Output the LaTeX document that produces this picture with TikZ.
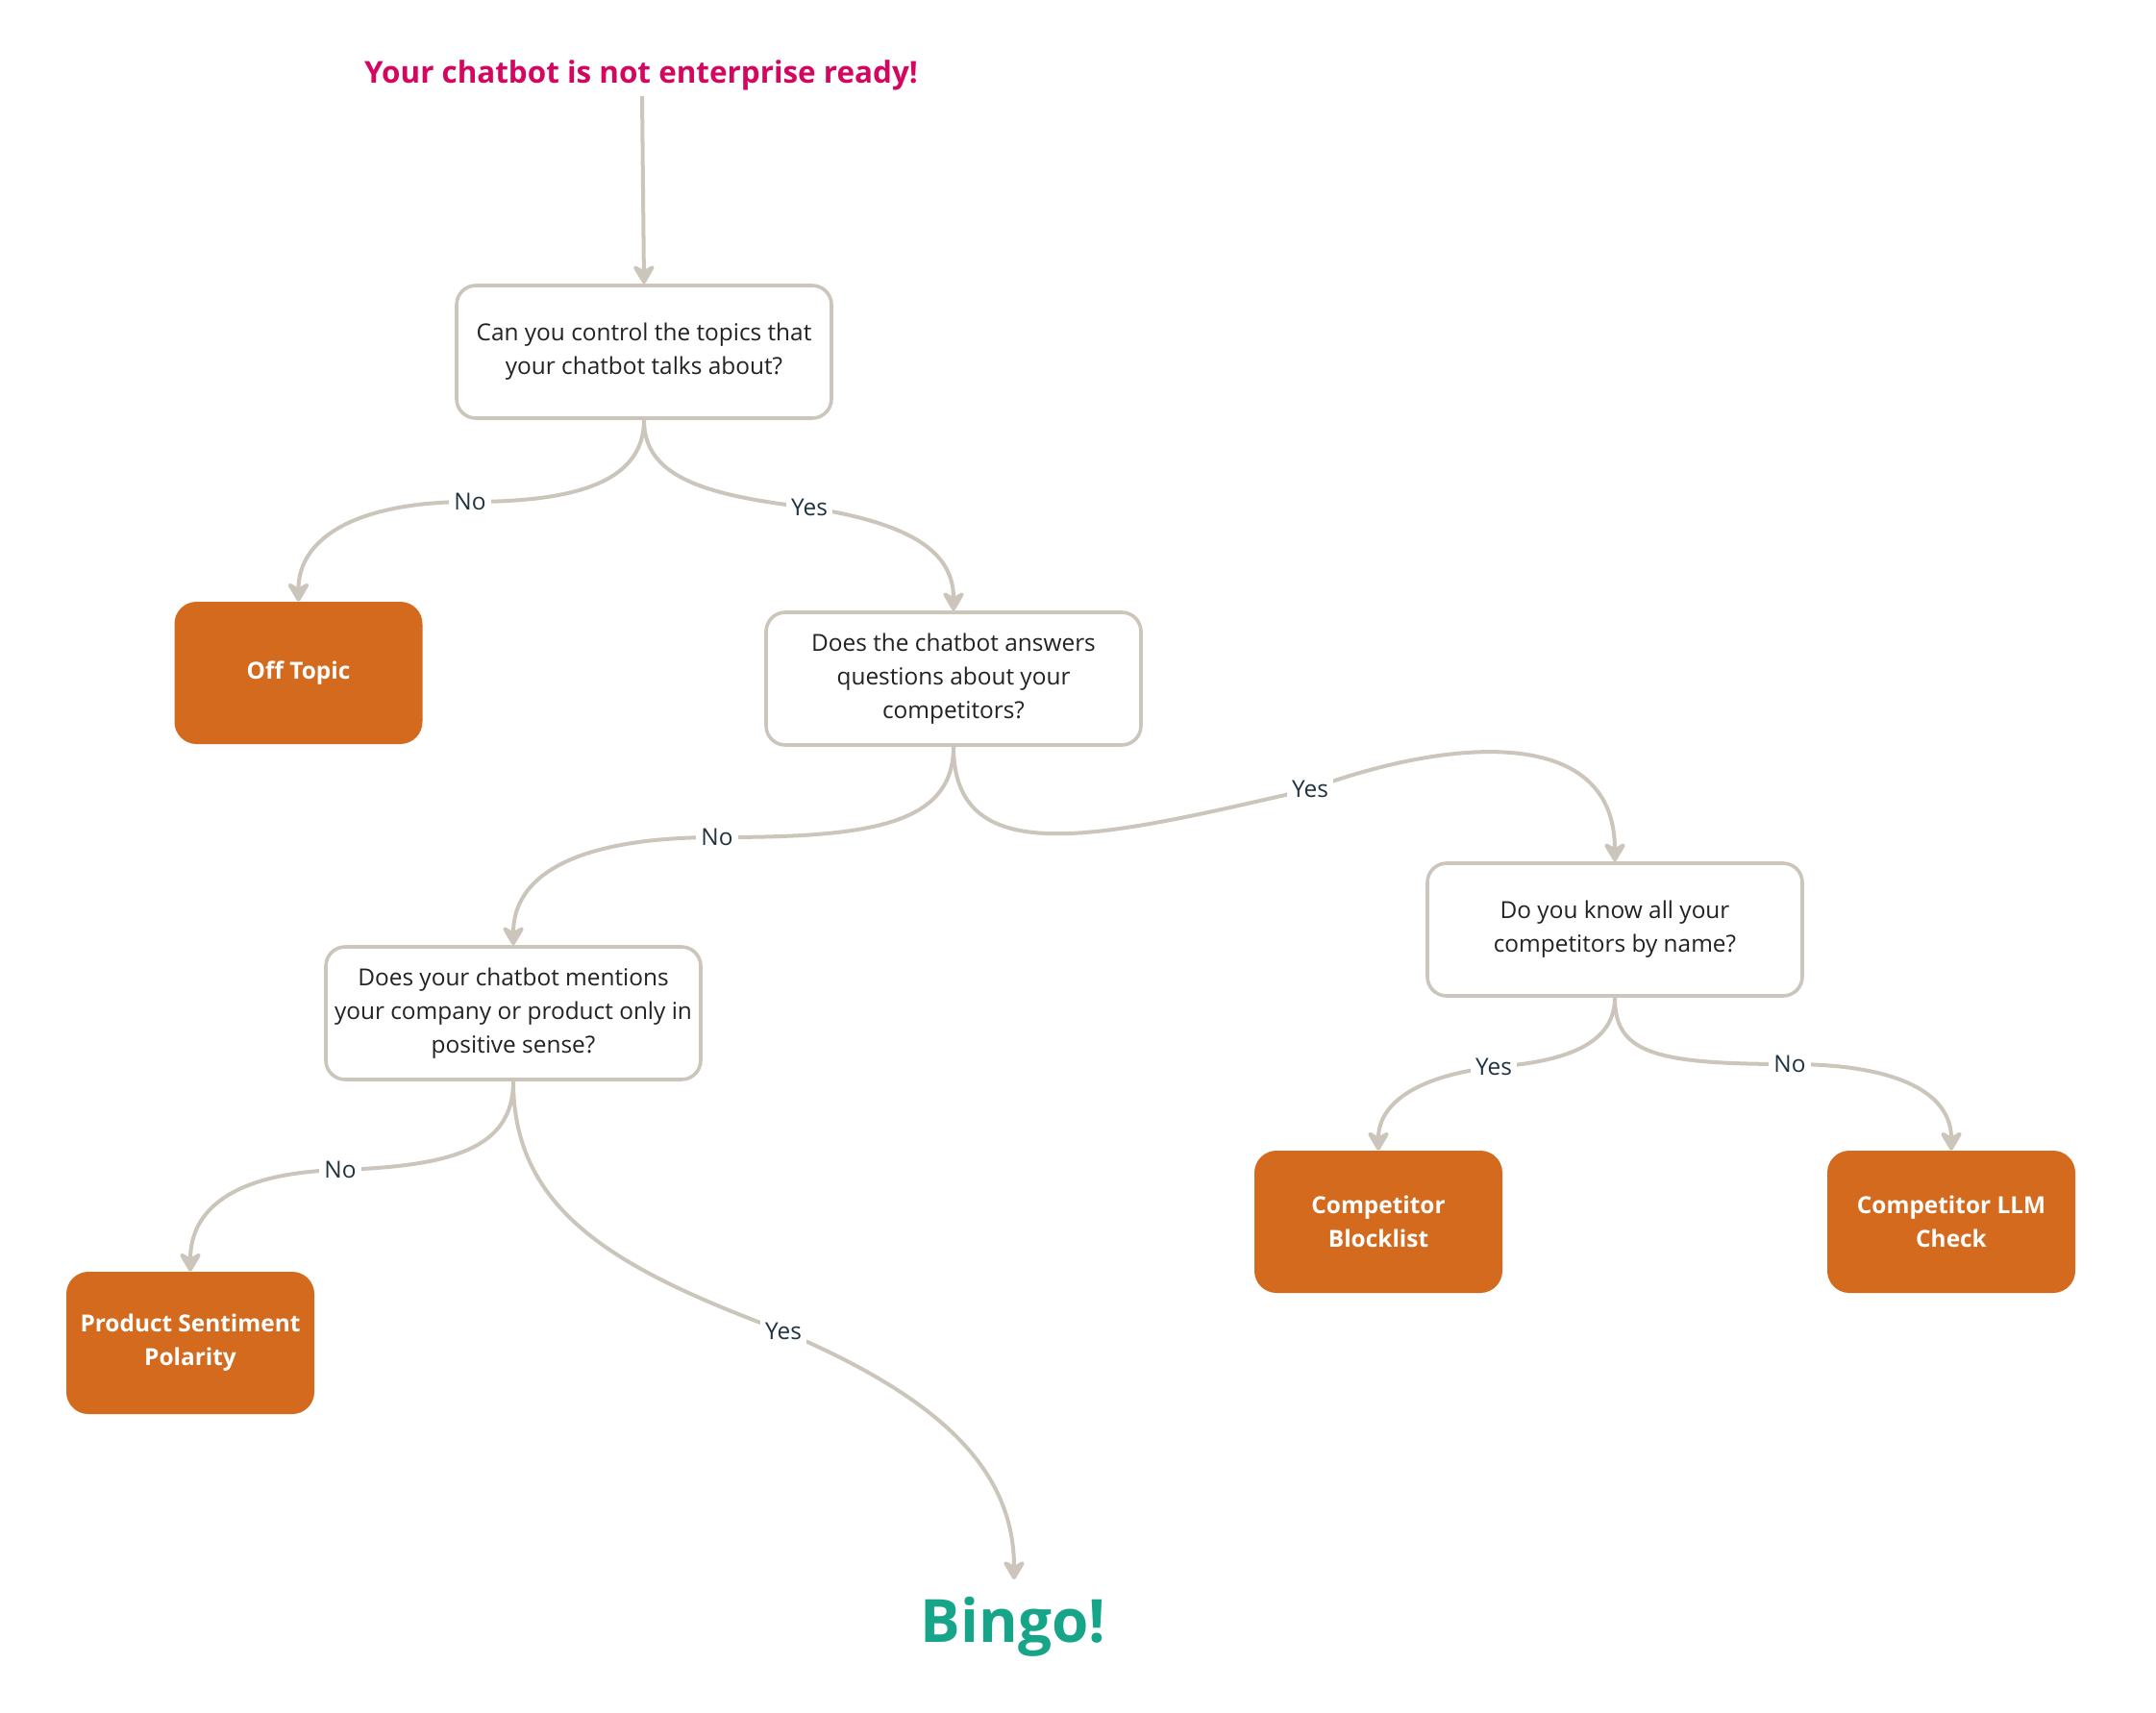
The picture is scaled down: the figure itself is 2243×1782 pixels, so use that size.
\documentclass[tikz,border=0pt]{standalone}
\usepackage{fontspec}
\setmainfont{Open Sans}
\usetikzlibrary{arrows.meta}
\definecolor{linec}{HTML}{CCC5BC}
\definecolor{orangec}{HTML}{D46A1E}
\definecolor{titlec}{HTML}{D3075F}
\definecolor{bingoc}{HTML}{17A589}
\definecolor{lblc}{HTML}{1F3440}
\definecolor{txtc}{HTML}{222222}
\tikzset{
  question/.style={draw=linec, line width=1.8pt, fill=white, rounded corners=10pt,
    minimum width=195pt, minimum height=69pt, inner sep=0pt, align=center,
    text=txtc, font=\fontsize{12.2}{17.5}\selectfont},
  outcome/.style={fill=orangec, rounded corners=11.5pt,
    minimum width=129pt, minimum height=74pt, inner sep=0pt, align=center,
    text=white, font=\bfseries\fontsize{12.2}{17.5}\selectfont},
  conn/.style={draw=linec, line width=2pt,
    -{Stealth[length=12pt, width=14pt, inset=4pt, round]}},
  lbl/.style={fill=white, inner sep=2.5pt, text=lblc, font=\fontsize{12.2}{14}\selectfont},
}
\begin{document}
\begin{tikzpicture}[x=0.5pt, y=-0.5pt]
\useasboundingbox (0,0) rectangle (2243,1782);
\fill[white] (0,0) rectangle (2243,1782);

\node[anchor=base, text=titlec, font=\bfseries\fontsize{15.7}{18}\selectfont] (title) at (667,87) {Your chatbot is not enterprise ready!};
\coordinate (tstart) at (668,100);

\node[question] (q1) at (670,366) {Can you control the topics that\\your chatbot talks about?};
\node[outcome] (off) at (310.5,700) {Off Topic};
\node[question] (q2) at (992,706) {Does the chatbot answers\\questions about your\\competitors?};
\node[question] (q3) at (1680,967) {Do you know all your\\competitors by name?};
\node[question] (q4) at (534,1054) {Does your chatbot mentions\\your company or product only in\\positive sense?};
\node[outcome] (psp) at (198,1397) {Product Sentiment\\Polarity};
\node[outcome] (block) at (1434,1271) {Competitor\\Blocklist};
\node[outcome] (llm) at (2030,1271) {Competitor LLM\\Check};
\node[text=bingoc, font=\bfseries\fontsize{31}{36}\selectfont, anchor=base] (bingo) at (1054,1708) {Bingo!};
\coordinate (bingotop) at (1055,1643);

\coordinate (c1) at (489,522);
\coordinate (c2) at (842,528);
\coordinate (c3) at (746,871);
\coordinate (c4) at (1363,821);
\coordinate (c5) at (1554,1110);
\coordinate (c6) at (1862,1107);
\coordinate (c7) at (354,1217);
\coordinate (c8) at (815,1385);

\draw[conn] (tstart) -- (q1.north);
\draw[conn] (q1.south) .. controls (670,505) and (590,522) .. (c1)
  .. controls (370,522) and (310.5,560) .. (off.north);
\draw[conn] (q1.south) .. controls (670,495) and (730,515) .. (c2)
  .. controls (950,545) and (992,575) .. (q2.north);
\draw[conn] (q2.south) .. controls (992,860) and (900,871) .. (c3)
  .. controls (600,871) and (534,910) .. (q4.north);
\draw[conn] (q2.south) .. controls (992,910) and (1150,870) .. (c4)
  .. controls (1500,770) and (1680,750) .. (q3.north);
\draw[conn] (q3.south) .. controls (1680,1090) and (1620,1105) .. (c5)
  .. controls (1470,1120) and (1434,1150) .. (block.north);
\draw[conn] (q3.south) .. controls (1680,1095) and (1720,1107) .. (c6)
  .. controls (1980,1107) and (2030,1140) .. (llm.north);
\draw[conn] (q4.south) .. controls (534,1195) and (470,1213) .. (c7)
  .. controls (240,1220) and (198,1260) .. (psp.north);
\draw[conn] (q4.south) .. controls (534,1260) and (640,1320) .. (c8)
  .. controls (980,1455) and (1055,1530) .. (bingotop);

\node[lbl] (l1) at (c1) {No};
\node[lbl] (l2) at (c2) {Yes};
\node[lbl] (l3) at (c3) {No};
\node[lbl] (l4) at (c4) {Yes};
\node[lbl] (l5) at (c5) {Yes};
\node[lbl] (l6) at (c6) {No};
\node[lbl] (l7) at (c7) {No};
\node[lbl] (l8) at (c8) {Yes};
\end{tikzpicture}
\end{document}
